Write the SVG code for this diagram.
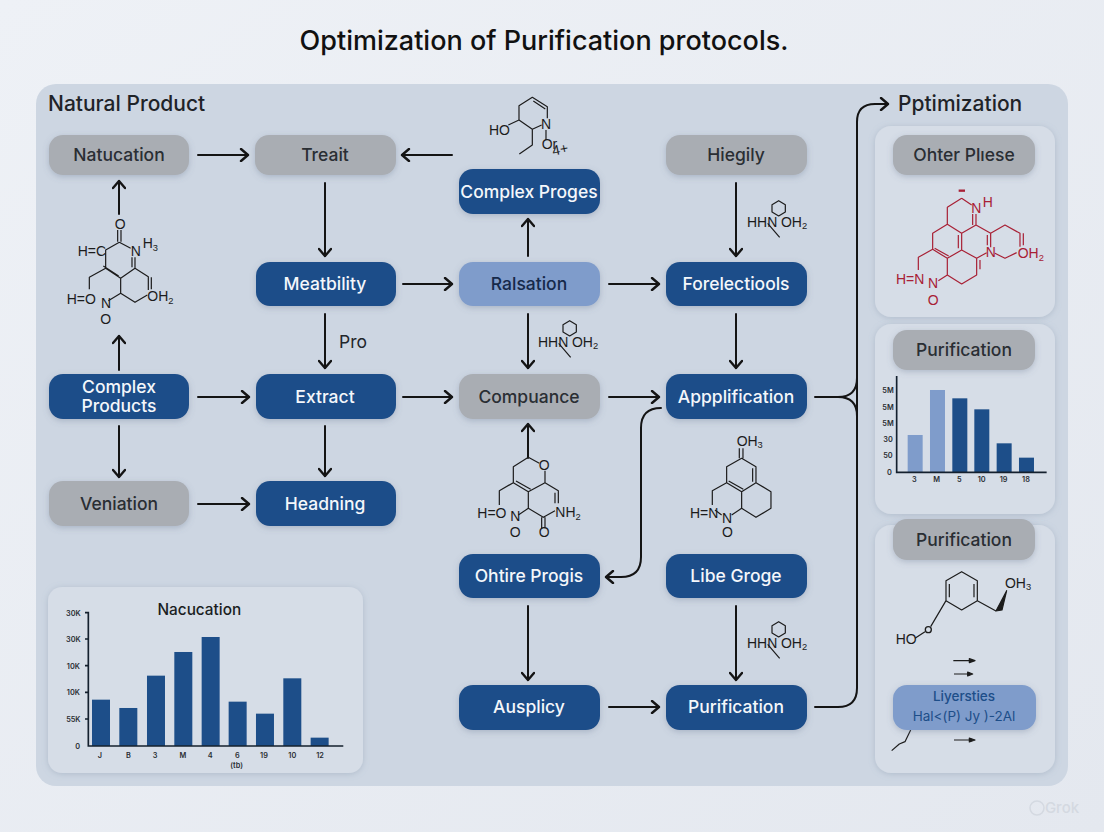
<svg xmlns="http://www.w3.org/2000/svg" width="1104" height="832" viewBox="0 0 1104 832">
<style>
text{font-family:Inter,"Liberation Sans",sans-serif}
.n{stroke:none;filter:url(#sh)}
.b{fill:#1d4e89}.g{fill:#a9adb3}.l{fill:#7f9ccb}
.t{font-size:17.5px;font-weight:500;text-anchor:middle}
.w{fill:#f4f7fb}.k{fill:#2a2e33}
.c{fill:none;stroke:#141414;stroke-width:2;stroke-linecap:round;marker-end:url(#a)}
.c0{fill:none;stroke:#141414;stroke-width:2;stroke-linecap:round}
.m path{fill:none;stroke:#1c1c1c;stroke-width:3.6;stroke-linejoin:round}
.m text{font-family:"Liberation Sans",Arial,sans-serif;font-size:42px;fill:#1c1c1c}
.r path{stroke:#a82035}
.r text{fill:#a82035}
.p{fill:#d6dde7;filter:url(#sh2)}
.ax{stroke:#14202e;stroke-width:5;fill:none}
.lb{font-size:22px;font-weight:600;fill:#2a2e33;text-anchor:middle}
.d{fill:#1d4e89}.e{fill:#7f9ccb}
</style>
<defs>
<linearGradient id="bg" x1="0" y1="0" x2="1" y2="1"><stop offset="0" stop-color="#eef1f6"/><stop offset="1" stop-color="#e4e8ef"/></linearGradient>
<filter id="sh" x="-20%" y="-30%" width="140%" height="170%"><feDropShadow dx="0" dy="2" stdDeviation="3" flood-color="#5a6b85" flood-opacity=".3"/></filter>
<filter id="sh2" x="-10%" y="-10%" width="120%" height="120%"><feDropShadow dx="0" dy="1" stdDeviation="3" flood-color="#7a8aa3" flood-opacity=".35"/></filter>
<marker id="a" viewBox="0 0 12 14" markerWidth="12" markerHeight="14" refX="10" refY="7" orient="auto" markerUnits="userSpaceOnUse"><path d="M3 1L10 7L3 13" fill="none" stroke="#141414" stroke-width="2.4" stroke-linecap="round" stroke-linejoin="round"/></marker>
<g id="hhn" class="m"><path d="M95-64L75-52V-30L95-18L115-30V-52Z M62 4L98 46"/><text x="0" y="14">HHN</text><text x="102" y="14">OH<tspan font-size="28" dy="8">2</tspan></text></g>
</defs>
<rect width="1104" height="832" fill="url(#bg)"/>
<text x="544" y="50" text-anchor="middle" font-size="27" font-weight="500" fill="#111">Optimization of Purification protocols.</text>
<rect x="36" y="84" width="1032" height="702" rx="20" fill="#cdd6e2"/>
<text x="48" y="111" font-size="21" font-weight="500" fill="#1f2328">Natural Product</text>
<text x="898" y="111" font-size="21" font-weight="500" fill="#1f2328">Pptimization</text>

<g id="panel-right-1"><rect class="p" x="875" y="126" width="180" height="191" rx="16"/></g>
<g id="panel-right-2"><rect class="p" x="875" y="324" width="180" height="190" rx="16"/></g>
<g id="panel-right-3"><rect class="p" x="875" y="525" width="180" height="248" rx="16"/></g>
<g id="panel-chart"><rect class="p" x="48" y="587" width="315" height="186" rx="14"/></g>

<g id="connectors">
<path class="c" d="M198 155H248"/><path class="c" d="M452 155H402"/>
<path class="c" d="M119 214V181"/><path class="c" d="M119 370V336"/>
<path class="c" d="M119 426V477"/><path class="c" d="M198 504H249"/>
<path class="c" d="M198 397H249"/><path class="c" d="M403 397H452"/><path class="c" d="M609 397H659"/>
<path class="c" d="M325 183V256"/><path class="c" d="M325 314V368"/><path class="c" d="M325 426V476"/>
<path class="c" d="M403 284H452"/><path class="c" d="M609 284H659"/>
<path class="c" d="M528 256V219"/><path class="c" d="M528 314V368"/>
<path class="c" d="M736 183V256"/><path class="c" d="M736 314V368"/>
<path class="c" d="M528 458V424"/><path class="c" d="M528 606V680"/>
<path class="c" d="M609 707H659"/><path class="c" d="M736 606V680"/>
<path class="c" d="M815 707H838Q857 707 857 688V122Q857 104 875 104H888"/>
<path class="c0" d="M815 397H838Q857 397 857 378"/><path class="c0" d="M838 397Q857 397 857 416"/>
<path class="c" d="M661 408Q641 408 641 428V557Q641 577 621 577H606"/>
</g>

<g id="n-natucation"><rect class="n g" x="49" y="135" width="140" height="40" rx="14"/><text class="t k" x="119" y="161">Natucation</text></g>
<g id="n-treait"><rect class="n g" x="255" y="135" width="141" height="40" rx="14"/><text class="t k" x="325" y="161">Treait</text></g>
<g id="n-hiegily"><rect class="n g" x="666" y="135" width="141" height="40" rx="14"/><text class="t k" x="736" y="161">Hiegily</text></g>
<g id="n-complex-proges"><rect class="n b" x="459" y="169" width="141" height="45" rx="14"/><text class="t w" x="529" y="198">Complex Proges</text></g>
<g id="n-meatbility"><rect class="n b" x="256" y="262" width="140" height="44" rx="14"/><text class="t w" x="325" y="290">Meatbility</text></g>
<g id="n-ralsation"><rect class="n l" x="459" y="262" width="141" height="44" rx="14"/><text class="t" fill="#16294a" x="529" y="290">Ralsation</text></g>
<g id="n-forelectiools"><rect class="n b" x="666" y="262" width="141" height="44" rx="14"/><text class="t w" x="736" y="290">Forelectiools</text></g>
<g id="n-complex-products"><rect class="n b" x="49" y="374" width="140" height="45" rx="14"/><text class="t w" x="119" y="393">Complex</text><text class="t w" x="119" y="412">Products</text></g>
<g id="n-extract"><rect class="n b" x="256" y="374" width="140" height="45" rx="14"/><text class="t w" x="325" y="403">Extract</text></g>
<g id="n-compuance"><rect class="n g" x="459" y="374" width="141" height="45" rx="14"/><text class="t k" x="529" y="403">Compuance</text></g>
<g id="n-appplification"><rect class="n b" x="666" y="374" width="141" height="45" rx="14"/><text class="t w" x="736" y="403">Appplification</text></g>
<g id="n-veniation"><rect class="n g" x="49" y="481" width="140" height="45" rx="14"/><text class="t k" x="119" y="510">Veniation</text></g>
<g id="n-headning"><rect class="n b" x="256" y="481" width="140" height="45" rx="14"/><text class="t w" x="325" y="510">Headning</text></g>
<g id="n-ohtire"><rect class="n b" x="459" y="554" width="141" height="44" rx="14"/><text class="t w" x="529" y="582">Ohtire Progis</text></g>
<g id="n-libe"><rect class="n b" x="666" y="554" width="141" height="44" rx="14"/><text class="t w" x="736" y="582">Libe Groge</text></g>
<g id="n-ausplicy"><rect class="n b" x="459" y="685" width="141" height="45" rx="14"/><text class="t w" x="529" y="713">Ausplicy</text></g>
<g id="n-purification"><rect class="n b" x="666" y="685" width="141" height="45" rx="14"/><text class="t w" x="736" y="713">Purification</text></g>
<g id="n-other"><rect class="n g" x="893" y="135" width="142" height="40" rx="14"/><text class="t k" x="964" y="161">Ohter Plıese</text></g>
<g id="n-pur2"><rect class="n g" x="893" y="330" width="142" height="40" rx="14"/><text class="t k" x="964" y="356">Purification</text></g>
<g id="n-pur3"><rect class="n g" x="893" y="519" width="142" height="41" rx="14"/><text class="t k" x="964" y="546">Purification</text></g>

<text x="339" y="348" font-size="17.5" fill="#22262b">Pro</text>

<g id="mol-1" class="m" transform="translate(40 180) scale(.3333)">
<path d="M233 150V185M243 150V185M238 187L272 205M238 187L197 210V265L242 295L285 265V232M276 232V262M285 265L325 290V330M334 292V328M190 258L236 288M197 265L148 292V328M242 295V340L205 362M242 340L285 367L322 345"/>
<text x="224" y="147">O</text><text x="272" y="228">N</text><text x="308" y="205">H<tspan font-size="28" dy="8">3</tspan></text><text x="113" y="228">H=C</text><text x="80" y="372">H=O</text><text x="183" y="384">N</text><text x="181" y="432">O</text><text x="322" y="364">OH<tspan font-size="28" dy="8">2</tspan></text>
</g>
<g id="mol-2" class="m" transform="translate(440 85) scale(.3333)">
<path d="M205 120L237 105V62L277 37L322 65V100M280 48L316 72M305 120L277 133L237 105M277 133V180L238 207M318 135V165"/>
<text x="147" y="150">HO</text><text x="303" y="132">N</text><text x="305" y="192" font-size="34">Or</text><text x="340" y="212" font-size="34" transform="rotate(-12 340 212)">4+</text>
</g>
<use href="#hhn" transform="translate(538 342) scale(.3333)"/>
<use href="#hhn" transform="translate(747 222) scale(.3333)"/>
<use href="#hhn" transform="translate(747 643) scale(.3333)"/>
<g id="mol-3" class="m" transform="translate(460 420) scale(.3333)">
<path d="M205 112L160 140V188L205 215L255 188V152M205 112L238 130M168 183L212 208M255 188L295 212V250M285 218V250M160 188L118 212V255M205 215V265L175 285M205 265L250 292L285 272M245 292V325M255 292V325"/>
<text x="236" y="150">O</text><text x="52" y="294">H=O</text><text x="151" y="304">N</text><text x="149" y="350">O</text><text x="286" y="292">NH<tspan font-size="28" dy="8">2</tspan></text><text x="236" y="350">O</text>
</g>
<g id="mol-4" class="m" transform="translate(460 420) scale(.3333)">
<path d="M838 85V115M849 85V115M845 115L800 140V188L845 215L888 188V140ZM878 145V185M806 183L850 208M888 188L933 215V265L888 292L845 265V215M845 265L815 285M800 188L757 212V255M765 270L785 285"/>
<text x="830" y="77">OH<tspan font-size="28" dy="8">3</tspan></text><text x="690" y="294">H=N</text><text x="786" y="308">N</text><text x="786" y="350">O</text>
</g>
<g id="mol-red" class="m r" transform="translate(870 170) scale(.3333)">
<path d="M275 85L232 112V163L275 190L318 165V132M308 132V165M275 85L305 105M318 165L362 190M232 163L188 190V238L232 265L275 240V190M265 195V235M194 235L236 258M275 240L320 265V315L275 342L232 315V265M320 265L350 248M330 270V298M232 315L205 332M188 238L145 262V300M362 190V232M352 195V226M362 190L405 165L450 190V230M460 190V226M375 250L405 265L440 248"/>
<path d="M266 62H285" style="stroke-width:7"/>
<text x="304" y="128">N</text><text x="338" y="112">H</text><text x="78" y="342">H=N</text><text x="174" y="355">N</text><text x="173" y="404">O</text><text x="347" y="262">N</text><text x="443" y="264">OH<tspan font-size="28" dy="8">2</tspan></text>
</g>
<g id="mol-5" class="m" transform="translate(870 560) scale(.3333)">
<path d="M275 35L322 62V122L275 150L228 122V62ZM238 72V112M312 72V112M322 122L378 153M228 122L182 200M135 235L165 215"/>
<path d="M378 153L410 92L396 150Z" style="fill:#1c1c1c"/>
<circle cx="175" cy="209" r="9" fill="none" stroke="#1c1c1c" stroke-width="4"/>
<text x="405" y="83">OH<tspan font-size="28" dy="8">3</tspan></text><text x="77" y="252">HO</text>
<path d="M250 302H300M252 342H295M252 540H300"/>
<path d="M298 296L315 302L298 308Z M293 336L308 342L293 348Z M298 534L315 540L298 546Z" style="fill:#1c1c1c"/>
<path d="M122 510L105 545L88 552L65 572"/>
</g>
<g id="n-liyersties"><rect class="n l" x="893" y="685" width="143" height="45" rx="14"/><text x="964" y="701" font-size="13.5" font-weight="500" text-anchor="middle" fill="#1d4e89">Liyersties</text><text x="964" y="721" font-size="13.5" text-anchor="middle" fill="#1d4e89">Hal&lt;(P) Jy )-2Al</text></g>

<g id="chart-1" transform="translate(45 590) scale(.3333)">
<text x="463" y="75" font-size="46" font-weight="500" text-anchor="middle" fill="#1a1d22">Nacucation</text>
<rect class="d" x="141" y="329" width="54" height="139"/><rect class="d" x="223" y="354" width="54" height="114"/><rect class="d" x="306" y="257" width="54" height="211"/><rect class="d" x="388" y="186" width="54" height="282"/><rect class="d" x="470" y="141" width="54" height="327"/><rect class="d" x="551" y="335" width="54" height="133"/><rect class="d" x="633" y="371" width="54" height="97"/><rect class="d" x="715" y="265" width="54" height="203"/><rect class="d" x="797" y="443" width="54" height="25"/>
<path class="ax" d="M130 65V468H895M120 68H130M120 147H130M120 227H130M120 307H130M120 387H130"/>
<g class="lb"><text x="85" y="78">30K</text><text x="85" y="157">30K</text><text x="85" y="237">10K</text><text x="85" y="316">10K</text><text x="85" y="396">55K</text><text x="98" y="478">0</text>
<text x="165" y="505">J</text><text x="250" y="505">B</text><text x="330" y="505">3</text><text x="414" y="505">M</text><text x="496" y="505">4</text><text x="577" y="505">6</text><text x="657" y="505">19</text><text x="742" y="505">10</text><text x="825" y="505">12</text><text x="575" y="533">(tb)</text></g>
</g>
<g id="chart-2" transform="translate(870 360) scale(.3333)">
<rect class="e" x="113" y="225" width="45" height="112"/><rect class="e" x="180" y="90" width="45" height="247"/><rect class="d" x="247" y="115" width="45" height="222"/><rect class="d" x="313" y="148" width="45" height="189"/><rect class="d" x="380" y="250" width="45" height="87"/><rect class="d" x="447" y="293" width="45" height="44"/>
<path class="ax" d="M80 48V337H530"/>
<g class="lb"><text x="54" y="100">5M</text><text x="54" y="150">5M</text><text x="54" y="198">5M</text><text x="54" y="245">30</text><text x="54" y="294">50</text><text x="58" y="345">0</text>
<text x="133" y="365">3</text><text x="200" y="365">M</text><text x="268" y="365">5</text><text x="335" y="365">10</text><text x="401" y="365">19</text><text x="468" y="365">18</text></g>
</g>
<text x="1062" y="813" font-size="15" font-weight="500" text-anchor="middle" fill="#d4d9e1">Grok</text>
<circle cx="1037" cy="808" r="7" fill="none" stroke="#d4d9e1" stroke-width="1.5"/>
</svg>
